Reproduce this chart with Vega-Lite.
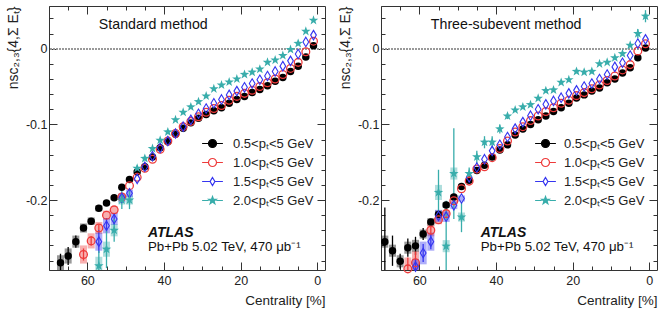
{
"$schema":"https://vega.github.io/schema/vega-lite/v6.json",
"padding":{"left":5,"top":5,"right":5,"bottom":5},
"background":"white",
"data":{"values":[
{"m":"std","pt":"0.5","c":1,"v":0.004},{"m":"std","pt":"0.5","c":3,"v":-0.011},{"m":"std","pt":"0.5","c":5,"v":-0.023},{"m":"std","pt":"0.5","c":7,"v":-0.030},{"m":"std","pt":"0.5","c":9,"v":-0.038},{"m":"std","pt":"0.5","c":11,"v":-0.043},{"m":"std","pt":"0.5","c":13,"v":-0.049},{"m":"std","pt":"0.5","c":15,"v":-0.054},{"m":"std","pt":"0.5","c":17,"v":-0.058},{"m":"std","pt":"0.5","c":19,"v":-0.063},{"m":"std","pt":"0.5","c":21,"v":-0.067},{"m":"std","pt":"0.5","c":23,"v":-0.072},{"m":"std","pt":"0.5","c":25,"v":-0.078},{"m":"std","pt":"0.5","c":27,"v":-0.082},{"m":"std","pt":"0.5","c":29,"v":-0.087},{"m":"std","pt":"0.5","c":31,"v":-0.092},{"m":"std","pt":"0.5","c":33,"v":-0.098},{"m":"std","pt":"0.5","c":35,"v":-0.105},{"m":"std","pt":"0.5","c":37,"v":-0.113},{"m":"std","pt":"0.5","c":39,"v":-0.123},{"m":"std","pt":"0.5","c":41,"v":-0.131},{"m":"std","pt":"0.5","c":43,"v":-0.143},{"m":"std","pt":"0.5","c":45,"v":-0.156},{"m":"std","pt":"0.5","c":47,"v":-0.163},{"m":"std","pt":"0.5","c":49,"v":-0.173},{"m":"std","pt":"0.5","c":51,"v":-0.183},{"m":"std","pt":"0.5","c":53,"v":-0.197},{"m":"std","pt":"0.5","c":55,"v":-0.204,"b":0.003},{"m":"std","pt":"0.5","c":57,"v":-0.211,"b":0.004},{"m":"std","pt":"0.5","c":59,"v":-0.228,"e":0.004,"b":0.005},{"m":"std","pt":"0.5","c":61,"v":-0.237,"e":0.004,"b":0.006},{"m":"std","pt":"0.5","c":63,"v":-0.255,"e":0.008,"b":0.008},{"m":"std","pt":"0.5","c":65,"v":-0.274,"e":0.012,"b":0.01},{"m":"std","pt":"0.5","c":67,"v":-0.283,"e":0.012,"b":0.01},
{"m":"std","pt":"1.0","c":1,"v":0.010},{"m":"std","pt":"1.0","c":3,"v":-0.004},{"m":"std","pt":"1.0","c":5,"v":-0.018},{"m":"std","pt":"1.0","c":7,"v":-0.026},{"m":"std","pt":"1.0","c":9,"v":-0.034},{"m":"std","pt":"1.0","c":11,"v":-0.040},{"m":"std","pt":"1.0","c":13,"v":-0.045},{"m":"std","pt":"1.0","c":15,"v":-0.050},{"m":"std","pt":"1.0","c":17,"v":-0.055},{"m":"std","pt":"1.0","c":19,"v":-0.059},{"m":"std","pt":"1.0","c":21,"v":-0.063},{"m":"std","pt":"1.0","c":23,"v":-0.068},{"m":"std","pt":"1.0","c":25,"v":-0.075},{"m":"std","pt":"1.0","c":27,"v":-0.079},{"m":"std","pt":"1.0","c":29,"v":-0.084},{"m":"std","pt":"1.0","c":31,"v":-0.090},{"m":"std","pt":"1.0","c":33,"v":-0.096},{"m":"std","pt":"1.0","c":35,"v":-0.103},{"m":"std","pt":"1.0","c":37,"v":-0.112},{"m":"std","pt":"1.0","c":39,"v":-0.122},{"m":"std","pt":"1.0","c":41,"v":-0.133},{"m":"std","pt":"1.0","c":43,"v":-0.146},{"m":"std","pt":"1.0","c":45,"v":-0.158},{"m":"std","pt":"1.0","c":47,"v":-0.170},{"m":"std","pt":"1.0","c":49,"v":-0.181},{"m":"std","pt":"1.0","c":51,"v":-0.196,"b":0.004},{"m":"std","pt":"1.0","c":53,"v":-0.213,"b":0.005},{"m":"std","pt":"1.0","c":55,"v":-0.220,"b":0.006},{"m":"std","pt":"1.0","c":57,"v":-0.237,"e":0.005,"b":0.008},{"m":"std","pt":"1.0","c":59,"v":-0.254,"e":0.006,"b":0.01},{"m":"std","pt":"1.0","c":61,"v":-0.272,"e":0.008,"b":0.012},
{"m":"std","pt":"1.5","c":1,"v":0.018},{"m":"std","pt":"1.5","c":3,"v":0.009},{"m":"std","pt":"1.5","c":5,"v":-0.007},{"m":"std","pt":"1.5","c":7,"v":-0.016},{"m":"std","pt":"1.5","c":9,"v":-0.023},{"m":"std","pt":"1.5","c":11,"v":-0.030},{"m":"std","pt":"1.5","c":13,"v":-0.036},{"m":"std","pt":"1.5","c":15,"v":-0.041},{"m":"std","pt":"1.5","c":17,"v":-0.046},{"m":"std","pt":"1.5","c":19,"v":-0.051},{"m":"std","pt":"1.5","c":21,"v":-0.056},{"m":"std","pt":"1.5","c":23,"v":-0.061},{"m":"std","pt":"1.5","c":25,"v":-0.067},{"m":"std","pt":"1.5","c":27,"v":-0.072},{"m":"std","pt":"1.5","c":29,"v":-0.079},{"m":"std","pt":"1.5","c":31,"v":-0.086},{"m":"std","pt":"1.5","c":33,"v":-0.094},{"m":"std","pt":"1.5","c":35,"v":-0.103},{"m":"std","pt":"1.5","c":37,"v":-0.112},{"m":"std","pt":"1.5","c":39,"v":-0.122},{"m":"std","pt":"1.5","c":41,"v":-0.131},{"m":"std","pt":"1.5","c":43,"v":-0.142},{"m":"std","pt":"1.5","c":45,"v":-0.156},{"m":"std","pt":"1.5","c":47,"v":-0.172},{"m":"std","pt":"1.5","c":49,"v":-0.191,"e":0.005,"b":0.005},{"m":"std","pt":"1.5","c":51,"v":-0.197,"e":0.006,"b":0.006},{"m":"std","pt":"1.5","c":53,"v":-0.225,"e":0.008,"b":0.008},{"m":"std","pt":"1.5","c":55,"v":-0.234,"e":0.01,"b":0.01},{"m":"std","pt":"1.5","c":57,"v":-0.255,"e":0.015,"b":0.012},
{"m":"std","pt":"2.0","c":1,"v":0.0375},{"m":"std","pt":"2.0","c":3,"v":0.023},{"m":"std","pt":"2.0","c":5,"v":0.007},{"m":"std","pt":"2.0","c":7,"v":-0.001},{"m":"std","pt":"2.0","c":9,"v":-0.009},{"m":"std","pt":"2.0","c":11,"v":-0.015},{"m":"std","pt":"2.0","c":13,"v":-0.018},{"m":"std","pt":"2.0","c":15,"v":-0.027},{"m":"std","pt":"2.0","c":17,"v":-0.031},{"m":"std","pt":"2.0","c":19,"v":-0.034},{"m":"std","pt":"2.0","c":21,"v":-0.040},{"m":"std","pt":"2.0","c":23,"v":-0.044},{"m":"std","pt":"2.0","c":25,"v":-0.048},{"m":"std","pt":"2.0","c":27,"v":-0.053},{"m":"std","pt":"2.0","c":29,"v":-0.0625},{"m":"std","pt":"2.0","c":31,"v":-0.070},{"m":"std","pt":"2.0","c":33,"v":-0.077},{"m":"std","pt":"2.0","c":35,"v":-0.084},{"m":"std","pt":"2.0","c":37,"v":-0.094},{"m":"std","pt":"2.0","c":39,"v":-0.110},{"m":"std","pt":"2.0","c":41,"v":-0.121},{"m":"std","pt":"2.0","c":43,"v":-0.132},{"m":"std","pt":"2.0","c":45,"v":-0.145},{"m":"std","pt":"2.0","c":47,"v":-0.158,"e":0.004},{"m":"std","pt":"2.0","c":49,"v":-0.200,"e":0.012,"b":0.006},{"m":"std","pt":"2.0","c":51,"v":-0.200,"e":0.012,"b":0.006},{"m":"std","pt":"2.0","c":53,"v":-0.240,"e":0.015,"b":0.008},{"m":"std","pt":"2.0","c":55,"v":-0.265,"e":0.025,"b":0.01},{"m":"std","pt":"2.0","c":57,"v":-0.287,"e":0.02,"b":0.012},
{"m":"3sub","pt":"0.5","c":1,"v":0.001},{"m":"3sub","pt":"0.5","c":3,"v":-0.012},{"m":"3sub","pt":"0.5","c":5,"v":-0.025},{"m":"3sub","pt":"0.5","c":7,"v":-0.032},{"m":"3sub","pt":"0.5","c":9,"v":-0.040},{"m":"3sub","pt":"0.5","c":11,"v":-0.045},{"m":"3sub","pt":"0.5","c":13,"v":-0.052},{"m":"3sub","pt":"0.5","c":15,"v":-0.056},{"m":"3sub","pt":"0.5","c":17,"v":-0.061},{"m":"3sub","pt":"0.5","c":19,"v":-0.065},{"m":"3sub","pt":"0.5","c":21,"v":-0.072},{"m":"3sub","pt":"0.5","c":23,"v":-0.078},{"m":"3sub","pt":"0.5","c":25,"v":-0.083},{"m":"3sub","pt":"0.5","c":27,"v":-0.089},{"m":"3sub","pt":"0.5","c":29,"v":-0.094},{"m":"3sub","pt":"0.5","c":31,"v":-0.100},{"m":"3sub","pt":"0.5","c":33,"v":-0.106},{"m":"3sub","pt":"0.5","c":35,"v":-0.114},{"m":"3sub","pt":"0.5","c":37,"v":-0.127},{"m":"3sub","pt":"0.5","c":39,"v":-0.134},{"m":"3sub","pt":"0.5","c":41,"v":-0.143},{"m":"3sub","pt":"0.5","c":43,"v":-0.154},{"m":"3sub","pt":"0.5","c":45,"v":-0.161},{"m":"3sub","pt":"0.5","c":47,"v":-0.174},{"m":"3sub","pt":"0.5","c":49,"v":-0.182},{"m":"3sub","pt":"0.5","c":51,"v":-0.196,"b":0.003},{"m":"3sub","pt":"0.5","c":53,"v":-0.2065,"b":0.004},{"m":"3sub","pt":"0.5","c":55,"v":-0.219,"b":0.005},{"m":"3sub","pt":"0.5","c":57,"v":-0.229,"e":0.004,"b":0.005},{"m":"3sub","pt":"0.5","c":59,"v":-0.245,"e":0.008,"b":0.006},{"m":"3sub","pt":"0.5","c":61,"v":-0.2606,"e":0.012,"b":0.008},{"m":"3sub","pt":"0.5","c":63,"v":-0.263,"e":0.012,"b":0.008},{"m":"3sub","pt":"0.5","c":65,"v":-0.281,"e":0.01,"b":0.008},{"m":"3sub","pt":"0.5","c":67,"v":-0.267,"e":0.02,"b":0.008},{"m":"3sub","pt":"0.5","c":69,"v":-0.255,"e":0.045,"b":0.008},
{"m":"3sub","pt":"1.0","c":1,"v":0.0066},{"m":"3sub","pt":"1.0","c":3,"v":-0.003},{"m":"3sub","pt":"1.0","c":5,"v":-0.021},{"m":"3sub","pt":"1.0","c":7,"v":-0.028},{"m":"3sub","pt":"1.0","c":9,"v":-0.036},{"m":"3sub","pt":"1.0","c":11,"v":-0.042},{"m":"3sub","pt":"1.0","c":13,"v":-0.048},{"m":"3sub","pt":"1.0","c":15,"v":-0.053},{"m":"3sub","pt":"1.0","c":17,"v":-0.058},{"m":"3sub","pt":"1.0","c":19,"v":-0.062},{"m":"3sub","pt":"1.0","c":21,"v":-0.068},{"m":"3sub","pt":"1.0","c":23,"v":-0.072},{"m":"3sub","pt":"1.0","c":25,"v":-0.078},{"m":"3sub","pt":"1.0","c":27,"v":-0.083},{"m":"3sub","pt":"1.0","c":29,"v":-0.089},{"m":"3sub","pt":"1.0","c":31,"v":-0.095},{"m":"3sub","pt":"1.0","c":33,"v":-0.103},{"m":"3sub","pt":"1.0","c":35,"v":-0.110},{"m":"3sub","pt":"1.0","c":37,"v":-0.122},{"m":"3sub","pt":"1.0","c":39,"v":-0.132},{"m":"3sub","pt":"1.0","c":41,"v":-0.144},{"m":"3sub","pt":"1.0","c":43,"v":-0.156},{"m":"3sub","pt":"1.0","c":45,"v":-0.159},{"m":"3sub","pt":"1.0","c":47,"v":-0.175},{"m":"3sub","pt":"1.0","c":49,"v":-0.185},{"m":"3sub","pt":"1.0","c":51,"v":-0.201,"b":0.004},{"m":"3sub","pt":"1.0","c":53,"v":-0.218,"b":0.005},{"m":"3sub","pt":"1.0","c":55,"v":-0.226,"b":0.006},{"m":"3sub","pt":"1.0","c":57,"v":-0.240,"e":0.006,"b":0.008},{"m":"3sub","pt":"1.0","c":61,"v":-0.283,"e":0.015,"b":0.015},{"m":"3sub","pt":"1.0","c":63,"v":-0.291,"e":0.015,"b":0.015},
{"m":"3sub","pt":"1.5","c":1,"v":0.0124},{"m":"3sub","pt":"1.5","c":3,"v":0.007},{"m":"3sub","pt":"1.5","c":5,"v":-0.009},{"m":"3sub","pt":"1.5","c":7,"v":-0.0185},{"m":"3sub","pt":"1.5","c":9,"v":-0.024},{"m":"3sub","pt":"1.5","c":11,"v":-0.034},{"m":"3sub","pt":"1.5","c":13,"v":-0.040},{"m":"3sub","pt":"1.5","c":15,"v":-0.046},{"m":"3sub","pt":"1.5","c":17,"v":-0.050},{"m":"3sub","pt":"1.5","c":19,"v":-0.055},{"m":"3sub","pt":"1.5","c":21,"v":-0.059},{"m":"3sub","pt":"1.5","c":23,"v":-0.0647},{"m":"3sub","pt":"1.5","c":25,"v":-0.069},{"m":"3sub","pt":"1.5","c":27,"v":-0.0735},{"m":"3sub","pt":"1.5","c":29,"v":-0.080},{"m":"3sub","pt":"1.5","c":31,"v":-0.0885},{"m":"3sub","pt":"1.5","c":33,"v":-0.097},{"m":"3sub","pt":"1.5","c":35,"v":-0.1056},{"m":"3sub","pt":"1.5","c":37,"v":-0.1166},{"m":"3sub","pt":"1.5","c":39,"v":-0.127},{"m":"3sub","pt":"1.5","c":41,"v":-0.135},{"m":"3sub","pt":"1.5","c":43,"v":-0.146},{"m":"3sub","pt":"1.5","c":45,"v":-0.157},{"m":"3sub","pt":"1.5","c":47,"v":-0.170},{"m":"3sub","pt":"1.5","c":49,"v":-0.198,"b":0.004},{"m":"3sub","pt":"1.5","c":51,"v":-0.207,"b":0.005},{"m":"3sub","pt":"1.5","c":53,"v":-0.222,"b":0.007},{"m":"3sub","pt":"1.5","c":55,"v":-0.221,"b":0.008},{"m":"3sub","pt":"1.5","c":57,"v":-0.255,"e":0.01,"b":0.012},{"m":"3sub","pt":"1.5","c":59,"v":-0.270,"e":0.012,"b":0.015},{"m":"3sub","pt":"1.5","c":61,"v":-0.288,"e":0.01,"b":0.01},
{"m":"3sub","pt":"2.0","c":1,"v":0.043,"e":0.008},{"m":"3sub","pt":"2.0","c":3,"v":0.020,"e":0.006},{"m":"3sub","pt":"2.0","c":5,"v":0.0045},{"m":"3sub","pt":"2.0","c":7,"v":-0.0066},{"m":"3sub","pt":"2.0","c":9,"v":-0.012},{"m":"3sub","pt":"2.0","c":11,"v":-0.018},{"m":"3sub","pt":"2.0","c":13,"v":-0.020},{"m":"3sub","pt":"2.0","c":15,"v":-0.030},{"m":"3sub","pt":"2.0","c":17,"v":-0.031},{"m":"3sub","pt":"2.0","c":19,"v":-0.030},{"m":"3sub","pt":"2.0","c":21,"v":-0.041},{"m":"3sub","pt":"2.0","c":23,"v":-0.0445},{"m":"3sub","pt":"2.0","c":25,"v":-0.0545},{"m":"3sub","pt":"2.0","c":27,"v":-0.0555},{"m":"3sub","pt":"2.0","c":29,"v":-0.0656},{"m":"3sub","pt":"2.0","c":31,"v":-0.074},{"m":"3sub","pt":"2.0","c":33,"v":-0.077},{"m":"3sub","pt":"2.0","c":35,"v":-0.081},{"m":"3sub","pt":"2.0","c":37,"v":-0.089,"e":0.004},{"m":"3sub","pt":"2.0","c":39,"v":-0.106,"e":0.006},{"m":"3sub","pt":"2.0","c":41,"v":-0.1236,"e":0.008},{"m":"3sub","pt":"2.0","c":43,"v":-0.1236,"e":0.008},{"m":"3sub","pt":"2.0","c":45,"v":-0.143,"e":0.008},{"m":"3sub","pt":"2.0","c":47,"v":-0.165,"e":0.008},{"m":"3sub","pt":"2.0","c":49,"v":-0.2225,"e":0.02,"b":0.006},{"m":"3sub","pt":"2.0","c":51,"v":-0.165,"e":0.06,"b":0.008},{"m":"3sub","pt":"2.0","c":53,"v":-0.261,"e":0.06,"b":0.008},{"m":"3sub","pt":"2.0","c":55,"v":-0.190,"e":0.03,"b":0.01}
]},
"spacing":56,
"bounds":"flush",
"resolve":{"scale":{"fill":"independent","stroke":"independent","shape":"independent"},"legend":{"fill":"independent","stroke":"independent","shape":"independent"}},
"hconcat":[
{"width":276,"height":264,
"transform":[{"filter":"datum.m=='std'"}],
"resolve":{"axis":{"x":"independent","y":"independent"}},
"layer":[
{"mark":{"type":"rule","strokeDash":[1.5,1.5],"color":"#999","strokeWidth":1},"encoding":{"y":{"datum":0,"type":"quantitative","scale":{"domain":[-0.2925,0.0565],"nice":false,"zero":false},"axis":null}}},
{"mark":{"type":"errorbar","ticks":false,"thickness":7,"opacity":0.4,"clip":true},"encoding":{"x":{"field":"c","type":"quantitative","axis":null},"y":{"field":"v","type":"quantitative","axis":null},"yError":{"field":"b"},"color":{"field":"pt","type":"nominal","scale":{"domain":["0.5","1.0","1.5","2.0"],"range":["#000000","#ee3a3a","#3535f0","#38adab"]},"legend":null}}},
{"mark":{"type":"errorbar","ticks":false,"thickness":1.3,"clip":true},"encoding":{"x":{"field":"c","type":"quantitative","axis":null},"y":{"field":"v","type":"quantitative","axis":null},"yError":{"field":"e"},"color":{"field":"pt","type":"nominal","legend":null}}},
{"transform":[{"filter":"datum.pt=='0.5'"}],"mark":{"type":"point","shape":"circle","filled":true,"color":"#000000","size":56,"opacity":1},
 "encoding":{"x":{"field":"c","type":"quantitative","scale":{"domain":[-2,70],"reverse":true,"nice":false,"zero":false},
   "axis":{"orient":"bottom","values":[0,5,10,15,20,25,30,35,40,45,50,55,60,65,70],"tickSize":{"condition":{"test":"datum.value%20==0","value":-8},"value":-4},"labelExpr":"datum.value%20==0 ? datum.label : ''","labelPadding":12,"labelOverlap":false,"labelFlush":false,"title":"Centrality [%]","titleAnchor":"start","titleAlign":"right","titleFontSize":13.5,"titlePadding":3}},
  "y":{"field":"v","type":"quantitative","scale":{"domain":[-0.2925,0.0565],"nice":false,"zero":false},
   "axis":{"orient":"left","values":[-0.28,-0.26,-0.24,-0.22,-0.2,-0.18,-0.16,-0.14,-0.12,-0.1,-0.08,-0.06,-0.04,-0.02,0,0.02,0.04],"tickSize":{"condition":{"test":"abs(datum.value*10-round(datum.value*10))<0.001","value":-8},"value":-4},"labelExpr":"abs(datum.value*10-round(datum.value*10))<0.001 ? (datum.value==0 ? '0' : '-0.'+round(-datum.value*10)) : ''","labelPadding":10,"labelOverlap":false,"title":"nsc₂,₃{4,Σ Eₜ}","titleAnchor":"end","titlePadding":5}}}},
{"transform":[{"filter":"datum.pt=='1.0'"}],"mark":{"type":"point","shape":"circle","filled":false,"color":"#ee3a3a","strokeWidth":1.3,"size":60,"opacity":1},"encoding":{"x":{"field":"c","type":"quantitative","axis":null},"y":{"field":"v","type":"quantitative","axis":null}}},
{"transform":[{"filter":"datum.pt=='1.5'"}],"mark":{"type":"point","shape":"M0,-1L0.6,0L0,1L-0.6,0Z","filled":false,"color":"#3535f0","strokeWidth":1.1,"size":90,"opacity":1},"encoding":{"x":{"field":"c","type":"quantitative","axis":null},"y":{"field":"v","type":"quantitative","axis":null}}},
{"transform":[{"filter":"datum.pt=='2.0'"}],"mark":{"type":"point","shape":"M0,-1L0.235,-0.324L0.951,-0.309L0.38,0.124L0.588,0.809L0,0.4L-0.588,0.809L-0.38,0.124L-0.951,-0.309L-0.235,-0.324Z","filled":true,"color":"#38adab","size":100,"opacity":1},"encoding":{"x":{"field":"c","type":"quantitative","axis":null},"y":{"field":"v","type":"quantitative","axis":null}}},
{"transform":[{"filter":"datum.c>1000"}],"mark":{"type":"point","strokeWidth":1.2},
 "encoding":{"x":{"field":"c","type":"quantitative","axis":{"orient":"top","values":[0,5,10,15,20,25,30,35,40,45,50,55,60,65,70],"tickSize":{"condition":{"test":"datum.value%20==0","value":-8},"value":-4},"labels":false,"title":null}},
  "y":{"field":"v","type":"quantitative","axis":{"orient":"right","values":[-0.28,-0.26,-0.24,-0.22,-0.2,-0.18,-0.16,-0.14,-0.12,-0.1,-0.08,-0.06,-0.04,-0.02,0,0.02,0.04],"tickSize":{"condition":{"test":"abs(datum.value*10-round(datum.value*10))<0.001","value":-8},"value":-4},"labels":false,"title":null}},
  "fill":{"field":"pt","type":"nominal","scale":{"domain":["0.5","1.0","1.5","2.0"],"range":["#000000","transparent","transparent","#38adab"]},"legend":{"orient":"none","legendX":157,"legendY":131,"title":null,"labelOffset":14,"labelExpr":"datum.label+'<pₜ<5 GeV'"}},
  "stroke":{"field":"pt","type":"nominal","scale":{"domain":["0.5","1.0","1.5","2.0"],"range":["#000000","#ee3a3a","#3535f0","#38adab"]},"legend":{"orient":"none","legendX":157,"legendY":131,"title":null,"labelOffset":14,"labelExpr":"datum.label+'<pₜ<5 GeV'"}},
  "shape":{"field":"pt","type":"nominal","scale":{"domain":["0.5","1.0","1.5","2.0"],"range":["M-2.6,0H-1M1,0H2.6M1,0A1,1,0,1,1,-1,0A1,1,0,1,1,1,0Z","M-2.6,0H-1M1,0H2.6M1,0A1,1,0,1,1,-1,0A1,1,0,1,1,1,0Z","M-2.6,0H-0.6M0.6,0H2.6M0,-1L0.6,0L0,1L-0.6,0Z","M-2.6,0H-0.95M0.95,0H2.6M0,-1L0.235,-0.324L0.951,-0.309L0.38,0.124L0.588,0.809L0,0.4L-0.588,0.809L-0.38,0.124L-0.951,-0.309L-0.235,-0.324Z"]},"legend":{"orient":"none","legendX":157,"legendY":131,"title":null,"labelOffset":14,"labelExpr":"datum.label+'<pₜ<5 GeV'"}}}},
{"data":{"values":[{}]},"mark":{"type":"text","text":"Standard method","align":"left","baseline":"alphabetic","fontSize":14.2,"color":"#111"},"encoding":{"x":{"datum":57,"type":"quantitative","axis":null},"y":{"datum":0.026,"type":"quantitative","axis":null}}},
{"data":{"values":[{}]},"mark":{"type":"text","text":"ATLAS","align":"left","baseline":"alphabetic","fontSize":14,"fontStyle":"italic","fontWeight":"bold","color":"#111"},"encoding":{"x":{"datum":44.2,"type":"quantitative","axis":null},"y":{"datum":-0.2487,"type":"quantitative","axis":null}}},
{"data":{"values":[{}]},"mark":{"type":"text","text":"Pb+Pb 5.02 TeV, 470 μb⁻¹","align":"left","baseline":"alphabetic","fontSize":13.3,"color":"#111"},"encoding":{"x":{"datum":44.2,"type":"quantitative","axis":null},"y":{"datum":-0.267,"type":"quantitative","axis":null}}}
]},
{"width":276,"height":264,
"transform":[{"filter":"datum.m=='3sub'"}],
"resolve":{"axis":{"x":"independent","y":"independent"}},
"layer":[
{"mark":{"type":"rule","strokeDash":[1.5,1.5],"color":"#999","strokeWidth":1},"encoding":{"y":{"datum":0,"type":"quantitative","scale":{"domain":[-0.2925,0.0565],"nice":false,"zero":false},"axis":null}}},
{"mark":{"type":"errorbar","ticks":false,"thickness":7,"opacity":0.4,"clip":true},"encoding":{"x":{"field":"c","type":"quantitative","axis":null},"y":{"field":"v","type":"quantitative","axis":null},"yError":{"field":"b"},"color":{"field":"pt","type":"nominal","scale":{"domain":["0.5","1.0","1.5","2.0"],"range":["#000000","#ee3a3a","#3535f0","#38adab"]},"legend":null}}},
{"mark":{"type":"errorbar","ticks":false,"thickness":1.3,"clip":true},"encoding":{"x":{"field":"c","type":"quantitative","axis":null},"y":{"field":"v","type":"quantitative","axis":null},"yError":{"field":"e"},"color":{"field":"pt","type":"nominal","legend":null}}},
{"transform":[{"filter":"datum.pt=='0.5'"}],"mark":{"type":"point","shape":"circle","filled":true,"color":"#000000","size":56,"opacity":1},
 "encoding":{"x":{"field":"c","type":"quantitative","scale":{"domain":[-2,70],"reverse":true,"nice":false,"zero":false},
   "axis":{"orient":"bottom","values":[0,5,10,15,20,25,30,35,40,45,50,55,60,65,70],"tickSize":{"condition":{"test":"datum.value%20==0","value":-8},"value":-4},"labelExpr":"datum.value%20==0 ? datum.label : ''","labelPadding":12,"labelOverlap":false,"labelFlush":false,"title":"Centrality [%]","titleAnchor":"start","titleAlign":"right","titleFontSize":13.5,"titlePadding":3}},
  "y":{"field":"v","type":"quantitative","scale":{"domain":[-0.2925,0.0565],"nice":false,"zero":false},
   "axis":{"orient":"left","values":[-0.28,-0.26,-0.24,-0.22,-0.2,-0.18,-0.16,-0.14,-0.12,-0.1,-0.08,-0.06,-0.04,-0.02,0,0.02,0.04],"tickSize":{"condition":{"test":"abs(datum.value*10-round(datum.value*10))<0.001","value":-8},"value":-4},"labelExpr":"abs(datum.value*10-round(datum.value*10))<0.001 ? (datum.value==0 ? '0' : '-0.'+round(-datum.value*10)) : ''","labelPadding":10,"labelOverlap":false,"title":"nsc₂,₃{4,Σ Eₜ}","titleAnchor":"end","titlePadding":5}}}},
{"transform":[{"filter":"datum.pt=='1.0'"}],"mark":{"type":"point","shape":"circle","filled":false,"color":"#ee3a3a","strokeWidth":1.3,"size":60,"opacity":1},"encoding":{"x":{"field":"c","type":"quantitative","axis":null},"y":{"field":"v","type":"quantitative","axis":null}}},
{"transform":[{"filter":"datum.pt=='1.5'"}],"mark":{"type":"point","shape":"M0,-1L0.6,0L0,1L-0.6,0Z","filled":false,"color":"#3535f0","strokeWidth":1.1,"size":90,"opacity":1},"encoding":{"x":{"field":"c","type":"quantitative","axis":null},"y":{"field":"v","type":"quantitative","axis":null}}},
{"transform":[{"filter":"datum.pt=='2.0'"}],"mark":{"type":"point","shape":"M0,-1L0.235,-0.324L0.951,-0.309L0.38,0.124L0.588,0.809L0,0.4L-0.588,0.809L-0.38,0.124L-0.951,-0.309L-0.235,-0.324Z","filled":true,"color":"#38adab","size":100,"opacity":1},"encoding":{"x":{"field":"c","type":"quantitative","axis":null},"y":{"field":"v","type":"quantitative","axis":null}}},
{"transform":[{"filter":"datum.c>1000"}],"mark":{"type":"point","strokeWidth":1.2},
 "encoding":{"x":{"field":"c","type":"quantitative","axis":{"orient":"top","values":[0,5,10,15,20,25,30,35,40,45,50,55,60,65,70],"tickSize":{"condition":{"test":"datum.value%20==0","value":-8},"value":-4},"labels":false,"title":null}},
  "y":{"field":"v","type":"quantitative","axis":{"orient":"right","values":[-0.28,-0.26,-0.24,-0.22,-0.2,-0.18,-0.16,-0.14,-0.12,-0.1,-0.08,-0.06,-0.04,-0.02,0,0.02,0.04],"tickSize":{"condition":{"test":"abs(datum.value*10-round(datum.value*10))<0.001","value":-8},"value":-4},"labels":false,"title":null}},
  "fill":{"field":"pt","type":"nominal","scale":{"domain":["0.5","1.0","1.5","2.0"],"range":["#000000","transparent","transparent","#38adab"]},"legend":{"orient":"none","legendX":158,"legendY":131,"title":null,"labelOffset":12,"labelExpr":"datum.label+'<pₜ<5 GeV'"}},
  "stroke":{"field":"pt","type":"nominal","scale":{"domain":["0.5","1.0","1.5","2.0"],"range":["#000000","#ee3a3a","#3535f0","#38adab"]},"legend":{"orient":"none","legendX":158,"legendY":131,"title":null,"labelOffset":12,"labelExpr":"datum.label+'<pₜ<5 GeV'"}},
  "shape":{"field":"pt","type":"nominal","scale":{"domain":["0.5","1.0","1.5","2.0"],"range":["M-2.6,0H-1M1,0H2.6M1,0A1,1,0,1,1,-1,0A1,1,0,1,1,1,0Z","M-2.6,0H-1M1,0H2.6M1,0A1,1,0,1,1,-1,0A1,1,0,1,1,1,0Z","M-2.6,0H-0.6M0.6,0H2.6M0,-1L0.6,0L0,1L-0.6,0Z","M-2.6,0H-0.95M0.95,0H2.6M0,-1L0.235,-0.324L0.951,-0.309L0.38,0.124L0.588,0.809L0,0.4L-0.588,0.809L-0.38,0.124L-0.951,-0.309L-0.235,-0.324Z"]},"legend":{"orient":"none","legendX":158,"legendY":131,"title":null,"labelOffset":12,"labelExpr":"datum.label+'<pₜ<5 GeV'"}}}},
{"data":{"values":[{}]},"mark":{"type":"text","text":"Three-subevent method","align":"left","baseline":"alphabetic","fontSize":14.2,"color":"#111"},"encoding":{"x":{"datum":57,"type":"quantitative","axis":null},"y":{"datum":0.026,"type":"quantitative","axis":null}}},
{"data":{"values":[{}]},"mark":{"type":"text","text":"ATLAS","align":"left","baseline":"alphabetic","fontSize":14,"fontStyle":"italic","fontWeight":"bold","color":"#111"},"encoding":{"x":{"datum":44,"type":"quantitative","axis":null},"y":{"datum":-0.2487,"type":"quantitative","axis":null}}},
{"data":{"values":[{}]},"mark":{"type":"text","text":"Pb+Pb 5.02 TeV, 470 μb⁻¹","align":"left","baseline":"alphabetic","fontSize":13.3,"color":"#111"},"encoding":{"x":{"datum":44,"type":"quantitative","axis":null},"y":{"datum":-0.267,"type":"quantitative","axis":null}}}
]}
],
"config":{
"font":"Liberation Sans",
"view":{"stroke":"#333","strokeWidth":1},
"axis":{"grid":false,"domain":false,"tickColor":"#333","tickWidth":1,"labelFont":"Liberation Sans","labelFontSize":12.5,"labelColor":"#222","titleFont":"Liberation Sans","titleFontSize":14,"titleFontWeight":"normal","titleColor":"#222"},
"legend":{"labelFont":"Liberation Sans","labelFontSize":13,"labelColor":"#222","labelOffset":13,"rowPadding":5,"symbolSize":64,"symbolOpacity":1,"symbolStrokeWidth":1.2,"padding":0}
}
}
